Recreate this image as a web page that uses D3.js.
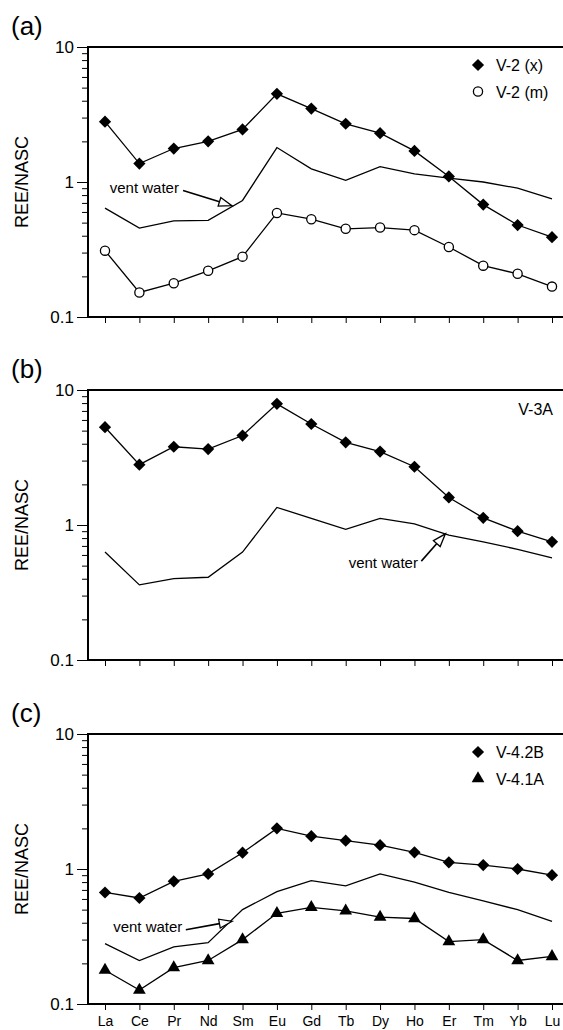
<!DOCTYPE html>
<html>
<head>
<meta charset="utf-8">
<script src="https://cdn.jsdelivr.net/npm/d3@7"></script>
<style>
	body { margin: 0; background: #fff; }
	svg { font-family: "Liberation Sans", Arial, sans-serif; }
	.line { fill: none; stroke: #000; stroke-width: 1.3; }
	.axis path, .axis line { stroke: #000; }
</style>
</head>
<body>
<svg id="chart" width="563" height="1030"></svg>
<script>

var elements = ["La", "Ce", "Pr", "Nd", "Sm", "Eu", "Gd", "Tb", "Dy", "Ho", "Er", "Tm", "Yb", "Lu"];

var majorTicks = [0.1, 1, 10];
var majorLabels = ["0.1", "1", "10"];
var minorTicks = [0.2, 0.3, 0.4, 0.5, 0.6, 0.7, 0.8, 0.9, 2, 3, 4, 5, 6, 7, 8, 9];

// panel (a)
var v2x = [2.8, 1.37, 1.77, 2.0, 2.45, 4.5, 3.5, 2.7, 2.3, 1.7, 1.1, 0.68, 0.48, 0.39];
var v2m = [0.31, 0.152, 0.178, 0.22, 0.28, 0.59, 0.53, 0.45, 0.46, 0.44, 0.33, 0.24, 0.209, 0.168];
var ventA = [0.64, 0.456, 0.515, 0.52, 0.73, 1.8, 1.25, 1.03, 1.3, 1.15, 1.07, 1.0, 0.9, 0.75];

// panel (b)
var v3a = [5.3, 2.8, 3.8, 3.65, 4.6, 7.9, 5.6, 4.1, 3.5, 2.7, 1.6, 1.13, 0.9, 0.75];
var ventB = [0.63, 0.36, 0.4, 0.41, 0.63, 1.35, 1.12, 0.93, 1.12, 1.02, 0.84, 0.75, 0.66, 0.57];

// panel (c)
var v42b = [0.67, 0.61, 0.81, 0.92, 1.32, 2.0, 1.75, 1.62, 1.5, 1.33, 1.12, 1.07, 1.0, 0.9];
var v41a = [0.178, 0.127, 0.186, 0.21, 0.3, 0.47, 0.52, 0.49, 0.44, 0.43, 0.29, 0.3, 0.21, 0.225];
var ventC = [0.28, 0.21, 0.265, 0.285, 0.5, 0.68, 0.82, 0.75, 0.92, 0.8, 0.67, 0.58, 0.5, 0.41];


var svg = d3.select("#chart");

var left = 88;
var right = 563;
var panelHeight = 270;

var x = d3.scalePoint().domain(elements).range([105, 552]);
var xi = d3.scaleLinear().domain([0, elements.length - 1]).range([105, 552]);

var diamond = d3.symbol().type(d3.symbolDiamond2).size(95);
var triangle = d3.symbol().type(d3.symbolTriangle).size(70);


function drawPanel(top, letter, showLabels)
{
	var g = svg.append("g");
	var y = d3.scaleLog().domain([0.1, 10]).range([top + panelHeight, top]);

	g.append("text")
		.attr("x", 11)
		.attr("y", top - 12)
		.attr("font-size", 26)
		.text("(" + letter + ")");

	g.append("text")
		.attr("transform", "translate(28," + (top + panelHeight / 2) + ") rotate(-90)")
		.attr("text-anchor", "middle")
		.attr("font-size", 18)
		.text("REE/NASC");

	// minor ticks
	g.append("g")
		.attr("class", "axis")
		.attr("transform", "translate(" + left + ",0)")
		.call(d3.axisLeft(y).tickValues(minorTicks).tickSize(6).tickFormat(""))
		.call(function(s) { s.select(".domain").remove(); });

	// major ticks
	g.append("g")
		.attr("class", "axis")
		.attr("transform", "translate(" + left + ",0)")
		.call(d3.axisLeft(y).tickValues(majorTicks).tickSize(11).tickPadding(3)
			.tickFormat(function(d, i) { return majorLabels[i]; }))
		.call(function(s)
		{
			s.select(".domain").remove();
			s.selectAll("text").attr("font-size", 17).attr("font-family", null);
		});

	var xAxis = g.append("g")
		.attr("class", "axis")
		.attr("transform", "translate(0," + (top + panelHeight) + ")")
		.call(d3.axisBottom(x).tickSize(6).tickPadding(6).tickSizeOuter(0));
	xAxis.select(".domain").remove();
	xAxis.selectAll("text")
		.attr("font-size", 14)
		.attr("font-family", null)
		.style("display", showLabels ? null : "none");

	// frame: left, top, bottom
	g.append("path")
		.attr("d", "M" + right + "," + top + "H" + left + "V" + (top + panelHeight) + "H" + right)
		.attr("fill", "none")
		.attr("stroke", "#000")
		.attr("stroke-width", 2);

	return { g: g, y: y };
}

function drawLine(p, values)
{
	var line = d3.line()
		.x(function(d, i) { return x(elements[i]); })
		.y(function(d) { return p.y(d); });

	p.g.append("path")
		.datum(values)
		.attr("class", "line")
		.attr("d", line);
}

function drawMarkers(p, values, kind)
{
	var sel = p.g.selectAll(null)
		.data(values)
		.enter();

	if(kind == "circle")
	{
		sel.append("circle")
			.attr("cx", function(d, i) { return x(elements[i]); })
			.attr("cy", function(d) { return p.y(d); })
			.attr("r", 4.6)
			.attr("fill", "#fff")
			.attr("stroke", "#000")
			.attr("stroke-width", 1.3);
	}
	else
	{
		sel.append("path")
			.attr("d", kind == "diamond" ? diamond : triangle)
			.attr("transform", function(d, i)
			{
				return "translate(" + x(elements[i]) + "," + p.y(d) + ")";
			})
			.attr("fill", "#000");
	}
}

function drawLegend(p, top, items)
{
	items.forEach(function(item, i)
	{
		var cy = top + 18 + i * 26.5;
		if(item.kind == "circle")
		{
			p.g.append("circle")
				.attr("cx", 478).attr("cy", cy).attr("r", 4.6)
				.attr("fill", "#fff").attr("stroke", "#000").attr("stroke-width", 1.3);
		}
		else
		{
			p.g.append("path")
				.attr("d", item.kind == "diamond" ? diamond : triangle)
				.attr("transform", "translate(478," + cy + ")");
		}
		p.g.append("text")
			.attr("x", 496)
			.attr("y", cy + 6)
			.attr("font-size", 16)
			.text(item.label);
	});
}

// annotation: text end and arrow tip in data space (element index, value)
function drawVent(p, textEnd, tail, tip)
{
	p.g.append("text")
		.attr("x", xi(textEnd[0]))
		.attr("y", p.y(textEnd[1]) + 5)
		.attr("text-anchor", "end")
		.attr("font-size", 15)
		.text("vent water");

	var x0 = xi(tail[0]), y0 = p.y(tail[1]);
	var x1 = xi(tip[0]), y1 = p.y(tip[1]);
	var a = Math.atan2(y1 - y0, x1 - x0);
	var len = 13, w = 4.5;
	var bx = x1 - len * Math.cos(a), by = y1 - len * Math.sin(a);

	p.g.append("line")
		.attr("x1", x0).attr("y1", y0)
		.attr("x2", bx).attr("y2", by)
		.attr("stroke", "#000").attr("stroke-width", 1.6);

	p.g.append("path")
		.attr("d", "M" + x1 + "," + y1 +
			"L" + (bx - w * Math.sin(a)) + "," + (by + w * Math.cos(a)) +
			"L" + (bx + w * Math.sin(a)) + "," + (by - w * Math.cos(a)) + "Z")
		.attr("fill", "#fff")
		.attr("stroke", "#000")
		.attr("stroke-width", 1.3);
}


var pa = drawPanel(47, "a", false);
drawLine(pa, ventA);
drawLine(pa, v2x);
drawLine(pa, v2m);
drawMarkers(pa, v2x, "diamond");
drawMarkers(pa, v2m, "circle");
drawLegend(pa, 47, [{ label: "V-2 (x)", kind: "diamond" }, { label: "V-2 (m)", kind: "circle" }]);
drawVent(pa, [2.15, 0.91], [2.27, 0.865], [3.69, 0.668]);

var pb = drawPanel(390, "b", false);
drawLine(pb, ventB);
drawLine(pb, v3a);
drawMarkers(pb, v3a, "diamond");
pb.g.append("text")
	.attr("x", 553)
	.attr("y", 390 + 25)
	.attr("text-anchor", "end")
	.attr("font-size", 16)
	.text("V-3A");
drawVent(pb, [9.1, 0.52], [9.2, 0.54], [9.9, 0.86]);

var pc = drawPanel(734, "c", true);
drawLine(pc, ventC);
drawLine(pc, v42b);
drawLine(pc, v41a);
drawMarkers(pc, v42b, "diamond");
drawMarkers(pc, v41a, "triangle");
drawLegend(pc, 734, [{ label: "V-4.2B", kind: "diamond" }, { label: "V-4.1A", kind: "triangle" }]);
drawVent(pc, [2.25, 0.37], [2.35, 0.355], [3.7, 0.41]);

</script>
</body>
</html>
